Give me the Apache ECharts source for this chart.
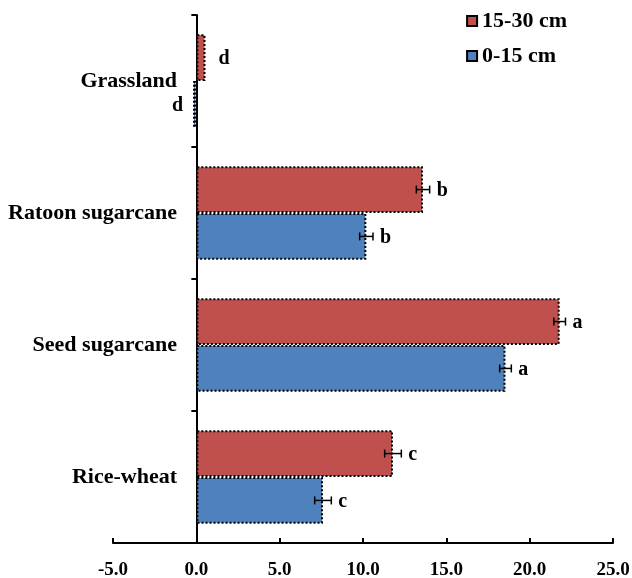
<!DOCTYPE html>
<html>
<head>
<meta charset="utf-8">
<script src="https://cdn.jsdelivr.net/npm/echarts@6/dist/echarts.min.js"></script>
<style>
  html, body { margin: 0; padding: 0; background: #fff; }
  #chart { width: 632px; height: 578px; }
</style>
</head>
<body>
<div id="chart"></div>
<script>
// Land uses, listed bottom to top along the category axis
const categories = ['Rice-wheat', 'Seed sugarcane', 'Ratoon sugarcane', 'Grassland'];

// Deep layer (15-30 cm)
const deepValues = [11.8, 21.8, 13.6, 0.55];
const deepErrors = [0.5, 0.35, 0.4, 0];
const deepLetters = ['c', 'a', 'b', 'd'];

// Surface layer (0-15 cm)
const surfValues = [7.6, 18.55, 10.2, -0.2];
const surfErrors = [0.5, 0.35, 0.4, 0];
const surfLetters = ['c', 'a', 'b', 'd'];

const xTicks = { min: -5, max: 25, interval: 5 };

const RED = '#C0504D';
const BLUE = '#4F81BD';
const FONT = '"Liberation Serif", "Times New Roman", serif';
const CAT_GAP = 0.29;   // share of each band left empty

const chart = echarts.init(document.getElementById('chart'), null, { renderer: 'canvas' });

// Error bar + significance letter, placed on one half of each category band
// side: -1 = upper bar of the pair, +1 = lower bar
function errorRenderer(values, errors, letters, side) {
  return function (params, api) {
    const i = api.value(0);
    const band = api.size([0, 1])[1];
    const barW = band * (1 - CAT_GAP) / 2;
    const c = api.coord([values[i], i]);
    const y = c[1] + side * barW / 2;
    const v = values[i], e = errors[i];
    const lo = api.coord([v - e, i])[0];
    const hi = api.coord([v + e, i])[0];
    const children = [];
    if (e > 0) {
      const cap = 4;
      const st = { stroke: '#000', lineWidth: 1.5 };
      children.push({ type: 'line', shape: { x1: lo, y1: y, x2: hi, y2: y }, style: st });
      children.push({ type: 'line', shape: { x1: lo, y1: y - cap, x2: lo, y2: y + cap }, style: st });
      children.push({ type: 'line', shape: { x1: hi, y1: y - cap, x2: hi, y2: y + cap }, style: st });
    }
    const neg = v < 0;
    children.push({
      type: 'text',
      style: {
        x: neg ? lo - 10 : hi + (e > 0 ? 7 : 13),
        y: y + 1,
        text: letters[i],
        fill: '#000',
        font: 'bold 20px ' + FONT,
        align: neg ? 'right' : 'left',
        verticalAlign: 'middle'
      }
    });
    return { type: 'group', children: children };
  };
}

const barStyle = (color) => ({
  color: color,
  borderColor: '#000',
  borderWidth: 2,
  borderType: 'dotted'
});

chart.setOption({
  animation: false,
  backgroundColor: '#fff',
  grid: { left: 113, right: 19, top: 15, bottom: 35, containLabel: false, outerBoundsMode: 'none' },
  legend: {
    data: ['15-30 cm', '0-15 cm'],
    orient: 'vertical',
    right: 60,
    top: 5,
    itemWidth: 10,
    itemHeight: 10,
    itemGap: 13,
    icon: 'rect',
    textStyle: { fontFamily: FONT, fontWeight: 'bold', fontSize: 22, color: '#000' }
  },
  xAxis: {
    type: 'value',
    min: xTicks.min,
    max: xTicks.max,
    interval: xTicks.interval,
    splitLine: { show: false },
    axisLine: { show: true, lineStyle: { color: '#000', width: 2 } },
    axisTick: { show: true, inside: true, length: 5, lineStyle: { color: '#000', width: 2 } },
    axisLabel: {
      formatter: (v) => v.toFixed(1),
      fontFamily: FONT, fontWeight: 'bold', fontSize: 19, color: '#000', margin: 18
    }
  },
  yAxis: {
    type: 'category',
    data: categories,
    axisLine: { show: true, onZero: true, lineStyle: { color: '#000', width: 2 } },
    axisTick: { show: true, length: 5, lineStyle: { color: '#000', width: 2 } },
    // labels sit beside the zero line rather than the grid edge
    axisLabel: { fontFamily: FONT, fontWeight: 'bold', fontSize: 22, color: '#000', margin: -64 }
  },
  series: [
    {
      name: '15-30 cm',
      type: 'bar',
      data: deepValues,
      barGap: '0%',
      barCategoryGap: (CAT_GAP * 100) + '%',
      itemStyle: barStyle(RED)
    },
    {
      name: '0-15 cm',
      type: 'bar',
      data: surfValues,
      barGap: '0%',
      barCategoryGap: (CAT_GAP * 100) + '%',
      itemStyle: barStyle(BLUE)
    },
    {
      type: 'custom',
      renderItem: errorRenderer(deepValues, deepErrors, deepLetters, -1),
      data: categories.map((c, i) => [i]),
      encode: { y: 0 },
      z: 5
    },
    {
      type: 'custom',
      renderItem: errorRenderer(surfValues, surfErrors, surfLetters, 1),
      data: categories.map((c, i) => [i]),
      encode: { y: 0 },
      z: 5
    }
  ]
});
</script>
</body>
</html>
